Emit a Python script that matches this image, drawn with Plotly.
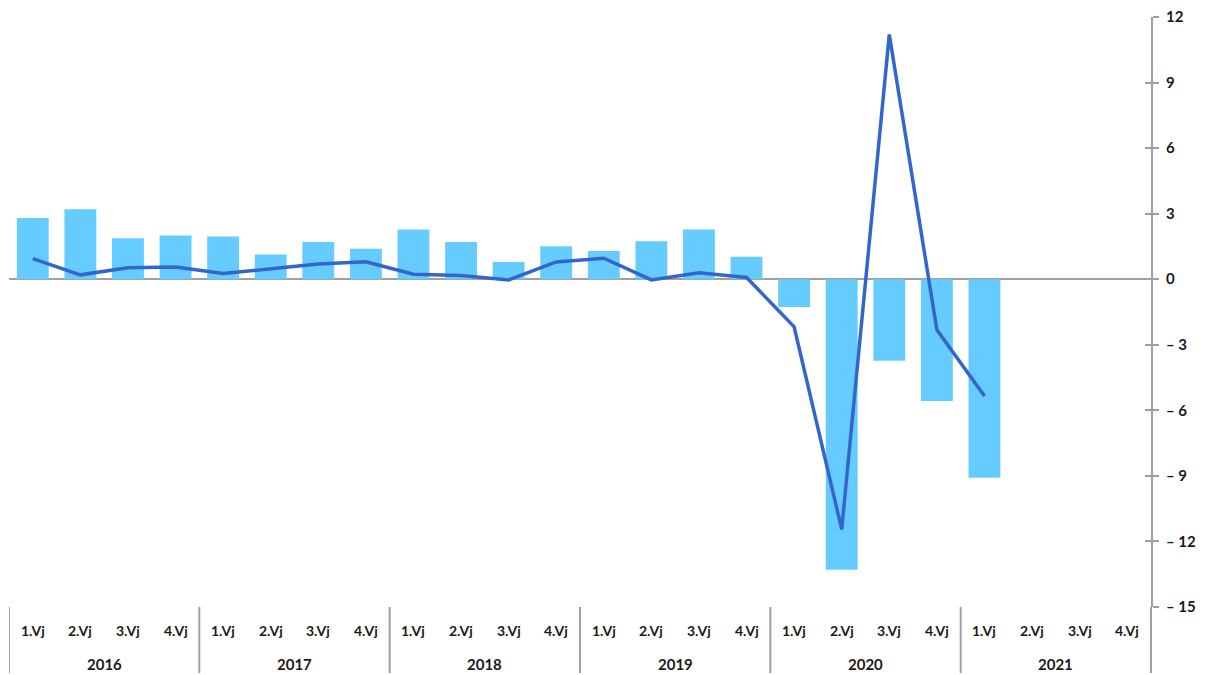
import plotly.graph_objects as go

years = ["2016", "2017", "2018", "2019", "2020", "2021"]
quarters = ["1.Vj", "2.Vj", "3.Vj", "4.Vj"]

bar_values = [2.8, 3.2, 1.87, 2.0,
              1.96, 1.13, 1.7, 1.39,
              2.27, 1.7, 0.79, 1.51,
              1.29, 1.74, 2.27, 1.03,
              -1.27, -13.3, -3.73, -5.57,
              -9.09, None, None, None]

line_values = [0.94, 0.2, 0.52, 0.56,
               0.26, 0.49, 0.7, 0.8,
               0.23, 0.17, -0.03, 0.79,
               0.96, -0.03, 0.3, 0.08,
               -2.18, -11.45, 11.2, -2.31,
               -5.34, None, None, None]

y_tickvals = [12, 9, 6, 3, 0, -3, -6, -9, -12, -15]
y_ticktext = ["12", "9", "6", "3", "0", "– 3", "– 6", "– 9", "– 12", "– 15"]

nq = len(quarters)
x_idx = list(range(len(years) * nq))
x_q = [q for _ in years for q in quarters]

# page body adds an 8px offset, so the figure is sized to fit the window
W, H = 1203, 667
M = dict(l=1, r=60, t=9, b=68)
plot_h = H - M["t"] - M["b"]

axis_gray = "#A0A0A0"
text_col = "#1a1a1a"
font_fam = "Lato, Noto Sans, sans-serif"

fig = go.Figure()
fig.add_trace(go.Bar(x=x_idx, y=bar_values, marker_color="#66CCFF",
                     marker_line_width=0, width=0.67))
fig.add_trace(go.Scatter(x=x_idx, y=line_values, mode="lines",
                         line=dict(color="#3366CC", width=3.5)))
# invisible trace to carry the inside ticks on the overlay axis
fig.add_trace(go.Scatter(x=[x_idx[0]], y=[0], yaxis="y2", mode="markers",
                         marker=dict(opacity=0), hoverinfo="skip"))

fig.update_layout(
    width=W, height=H,
    margin=M,
    plot_bgcolor="white", paper_bgcolor="white",
    showlegend=False,
    font=dict(family=font_fam, size=14, color=text_col),
    xaxis=dict(range=[-0.5, len(x_idx) - 0.5], showgrid=False, showline=False,
               zeroline=False, showticklabels=False, ticks="", automargin=False),
    yaxis=dict(side="right", range=[-15, 12], tickvals=y_tickvals,
               ticktext=y_ticktext, showgrid=False, showline=True,
               linecolor=axis_gray, linewidth=2, ticks="outside",
               ticklen=6, tickcolor=axis_gray, tickwidth=2,
               zeroline=True, zerolinecolor=axis_gray, zerolinewidth=1.5,
               ticklabelstandoff=4, automargin=False, ticklabeloverflow="allow",
               tickfont=dict(size=15, color=text_col, weight="bold")),
    yaxis2=dict(overlaying="y", side="right", range=[-15, 12],
                tickvals=y_tickvals, showticklabels=False, showgrid=False,
                showline=False, zeroline=False, ticks="inside", ticklen=6,
                tickcolor=axis_gray, tickwidth=2, automargin=False),
)

# quarter and year labels under the plot
q_y = -23 / plot_h
yr_y = -57 / plot_h
for i, q in zip(x_idx, x_q):
    fig.add_annotation(x=i, y=q_y, xref="x", yref="paper", text=q,
                       showarrow=False, yanchor="middle",
                       font=dict(size=14, color=text_col, family=font_fam, weight="bold"))
for k, yr in enumerate(years):
    fig.add_annotation(x=k * nq + (nq - 1) / 2, y=yr_y, xref="x", yref="paper",
                       text=yr, showarrow=False, yanchor="middle",
                       font=dict(size=15, color=text_col, family=font_fam, weight="bold"))

# year dividers
div_bottom = -66 / plot_h
for k in range(len(years)):
    fig.add_shape(type="line", xref="x", yref="paper", x0=k * nq - 0.5, x1=k * nq - 0.5,
                  y0=0, y1=div_bottom, line=dict(color=axis_gray, width=2))
fig.add_shape(type="line", xref="paper", yref="paper", x0=1, x1=1, y0=0, y1=div_bottom,
              line=dict(color=axis_gray, width=2))

fig.write_html("out.html")
